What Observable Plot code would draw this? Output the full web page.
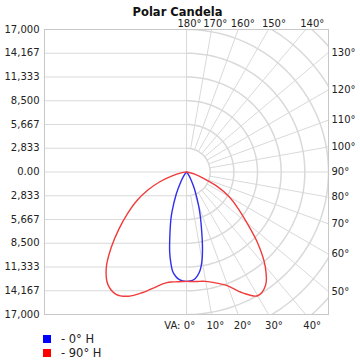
<!DOCTYPE html>
<html>
<head>
<meta charset="utf-8">
<script src="https://cdn.jsdelivr.net/npm/d3@7"></script>
<script src="https://cdn.jsdelivr.net/npm/@observablehq/plot@0.6"></script>
<style>
  html, body { margin: 0; padding: 0; background: #fff; }
  #wrap { position: relative; width: 360px; height: 360px; font-family: "DejaVu Sans", sans-serif; }
  .leg { position: absolute; left: 43px; font-size: 11.5px; color: #222; display: flex; align-items: center; }
  .sw { width: 8px; height: 8px; margin-right: 10px; }
</style>
</head>
<body>
<div id="wrap">
  <div id="chart"></div>
  <div class="leg" style="top:332px"><div class="sw" style="background:#0000ff"></div>- 0° H</div>
  <div class="leg" style="top:346px"><div class="sw" style="background:#ff0000"></div>- 90° H</div>
</div>
<script>
// Vertical angles (degrees from nadir) and candela values; right half and left half of each plane
const angles      = [0, 2, 4, 6, 8, 10, 12, 14, 16, 18, 20, 25, 30, 35, 40, 45, 50, 55, 60, 65, 70, 75, 80, 85, 90];
const cd0H_right  = [13050, 13010, 12850, 12450, 11800, 10700, 9200, 7600, 6300, 5200, 4200, 2300, 1100, 500, 200, 80, 30, 10, 0, 0, 0, 0, 0, 0, 0];
const cd0H_left   = [13050, 13010, 12850, 12500, 11950, 10900, 9700, 8300, 7100, 6100, 5100, 2900, 1400, 600, 250, 100, 40, 15, 0, 0, 0, 0, 0, 0, 0];
const cd90H_right = [13050, 13070, 13100, 13130, 13170, 13250, 13400, 13600, 13830, 14100, 14450, 15900, 17050, 16500, 14650, 12100, 9450, 7500, 5900, 4000, 2100, 1000, 350, 80, 0];
const cd90H_left  = [13050, 13080, 13120, 13180, 13260, 13400, 13650, 14000, 14400, 14850, 15300, 16350, 16850, 16400, 14950, 12750, 10550, 8600, 6900, 5100, 3400, 1700, 650, 150, 0];
const seriesNames = ["- 0° H", "- 90° H"];
const seriesColors = ["#2f2ff0", "#f03c3c"];

// Axis tick labels
const maxCd = 17000;
const yTickLabels = ["17,000", "14,167", "11,333", "8,500", "5,667", "2,833", "0.00", "2,833", "5,667", "8,500", "11,333", "14,167", "17,000"];
const yTickValues = yTickLabels.map((_, i) => -maxCd + i * maxCd / 6);
const gridAngles = [0, 10, 20, 30, 40, 50, 60, 70, 80, 90, 100, 110, 120, 130, 140, 150, 160, 170, 180];
const angleLabels = gridAngles.map(a => a + "°");
const ringStep = maxCd / 6;

const rad = d => d * Math.PI / 180;
function curve(right, left, name) {
  const pts = [];
  for (let i = angles.length - 1; i >= 0; i--) pts.push({a: -angles[i], c: left[i]});
  for (let i = 1; i < angles.length; i++) pts.push({a: angles[i], c: right[i]});
  return pts.map(p => ({x: p.c * Math.sin(rad(p.a)), y: -p.c * Math.cos(rad(p.a)), s: name}));
}
const data = [...curve(cd0H_right, cd0H_left, seriesNames[0]), ...curve(cd90H_right, cd90H_left, seriesNames[1])];

// Polar grid (right half)
const rings = [];
for (let k = 1; k <= 8; k++) {
  for (let a = 0; a <= 180; a += 2) rings.push({k, x: k * ringStep * Math.sin(rad(a)), y: -k * ringStep * Math.cos(rad(a))});
}
const radials = gridAngles.filter(a => a > 0 && a < 180).map(a => ({
  x1: ringStep * Math.sin(rad(a)), y1: -ringStep * Math.cos(rad(a)),
  x2: 40000 * Math.sin(rad(a)), y2: -40000 * Math.cos(rad(a))
}));

// Angle label placement along each radial at the frame
const lab = gridAngles.map((a, i) => {
  const s = Math.sin(rad(a)), c = -Math.cos(rad(a));
  const tSide = s > 1e-9 ? maxCd / s : Infinity;
  const tTB = Math.abs(c) > 1e-9 ? maxCd / Math.abs(c) : Infinity;
  if (tSide < tTB - 1) return {side: "right", x: maxCd, y: tSide * c, t: angleLabels[i]};
  if (c > 0) return {side: "top", x: s * maxCd * 1.03 / c, y: maxCd, t: angleLabels[i]};
  return {side: "bottom", x: s * maxCd * 1.03 / -c, y: -maxCd, t: angleLabels[i]};
});

const gridColor = "#d9d9d9";
const chart = Plot.plot({
  width: 360, height: 332,
  marginLeft: 44, marginRight: 32, marginTop: 29, marginBottom: 18,
  style: {fontFamily: "DejaVu Sans, sans-serif", fontSize: "10px", color: "#222", background: "#fff"},
  x: {domain: [-maxCd, maxCd], axis: null},
  y: {domain: [-maxCd, maxCd], axis: null},
  color: {domain: seriesNames, range: seriesColors},
  marks: [
    Plot.ruleY(yTickValues, {x1: -maxCd, x2: 0, stroke: gridColor}),
    Plot.line(rings, {x: "x", y: "y", z: "k", stroke: gridColor, clip: true}),
    Plot.link(radials, {x1: "x1", y1: "y1", x2: "x2", y2: "y2", stroke: gridColor, clip: true}),
    Plot.ruleX([0], {stroke: gridColor}),
    Plot.frame({stroke: "#c8c8c8"}),
    Plot.axisY({ticks: yTickValues, tickFormat: (d, i) => yTickLabels[i], tickSize: 0, tickPadding: 5, label: null, fontSize: 10}),
    Plot.line(data, {x: "x", y: "y", z: "s", stroke: "s", strokeWidth: 1.4, curve: "catmull-rom"}),
    Plot.text(lab.filter(d => d.side === "right"), {x: "x", y: "y", text: "t", textAnchor: "start", dx: 3, fontSize: 10, fill: "#222"}),
    Plot.text(lab.filter(d => d.side === "top"), {x: "x", y: "y", text: "t", dy: -6, dx: 3, fontSize: 10, fill: "#222"}),
    Plot.text(lab.filter(d => d.side === "bottom"), {x: "x", y: "y", text: "t", dy: 11, dx: 3, fontSize: 10, fill: "#222"}),
    Plot.text(lab.filter(d => d.side === "bottom" && d.t === "0°"), {x: "x", y: "y", text: () => "VA:", dy: 11, dx: -6, textAnchor: "end", fontSize: 10, fill: "#222"}),
    Plot.text(["Polar Candela"], {frameAnchor: "top", dy: -22, dx: -9, fontWeight: "bold", fontSize: 11.5, fill: "#111"})
  ]
});
document.getElementById("chart").appendChild(chart);
</script>
</body>
</html>
